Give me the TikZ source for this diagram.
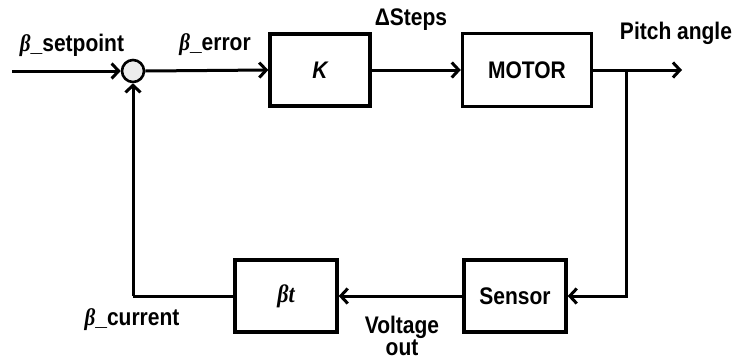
\documentclass[tikz,border=0pt]{standalone}
\usepackage{fontspec}
\setmainfont{Liberation Sans}
\newfontfamily\serifgr{Liberation Serif}
\usetikzlibrary{arrows.meta}
\newcommand{\bt}{{\serifgr\bfseries\itshape β}}
\newcommand{\tall}[1]{\scalebox{1.05}[1.2]{#1}}
\begin{document}
\begin{tikzpicture}[x=1pt,y=-1pt,
  blk/.style={draw,line width=3.4pt,fill=white,minimum width=100pt,minimum height=72pt,inner sep=0pt,font=\fontsize{20}{23}\selectfont\bfseries},
  lbl/.style={font=\fontsize{20}{23}\selectfont\bfseries,inner sep=0pt},
  conn/.style={line width=3pt,-{Straight Barb[length=7pt,width=15pt,line width=3pt]}},
  plain/.style={line width=3pt}]
\useasboundingbox (0,0) rectangle (737,362);
\node[draw,circle,line width=2.6pt,fill=gray!15,minimum size=22pt,inner sep=0pt] (sum) at (133,71) {};
\node[blk] (K) at (320,70) {\tall{\itshape K}};
\node[blk,minimum width=129pt,minimum height=73pt] (motor) at (527,70) {\tall{MOTOR}};
\node[blk,minimum width=102pt] (sensor) at (515,296) {\tall{Sensor}};
\node[blk,minimum width=102pt] (bt) at (286,296) {\tall{\fontsize{21}{24}\selectfont\serifgr\bfseries\itshape βt}};
\coordinate (in) at (12,71);
\coordinate (out) at (682,70);
\coordinate (br) at (626,70);
\coordinate (corner) at (133,296);
\draw[conn] (in) -- (sum.west);
\draw[conn] (sum.east) -- (K.west);
\draw[conn] (K.east) -- (motor.west);
\draw[conn] (motor.east) -- (out);
\draw[conn] (br) |- (sensor.east);
\draw[conn] (sensor.west) -- (bt.east);
\draw[plain] (bt.west) -- (corner);
\draw[conn] (corner) -- (sum.south);
\node[lbl] (l1) at (72,45) {\tall{\bt\_setpoint}};
\node[lbl] (l2) at (215,45) {\tall{\bt\_error}};
\node[lbl] (l3) at (411,20) {\tall{ΔSteps}};
\node[lbl] (l4) at (676,33) {\tall{Pitch angle}};
\node[lbl] (l5) at (132,320) {\tall{\bt\_current}};
\node[lbl] (l6) at (402,327) {\tall{Voltage}};
\node[lbl] (l7) at (402,348) {\tall{out}};
\end{tikzpicture}
\end{document}
